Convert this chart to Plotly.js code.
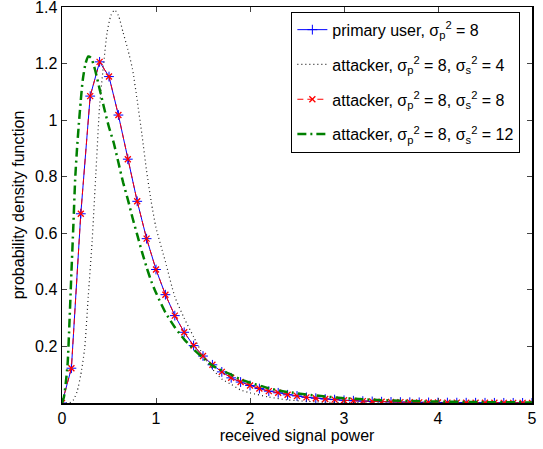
<!DOCTYPE html>
<html>
<head>
<meta charset="utf-8">
<script src="https://cdn.plot.ly/plotly-3.0.1.min.js"></script>
<style>
html,body{margin:0;padding:0;background:#fff;}
#chart{width:543px;height:449px;}
</style>
</head>
<body>
<div id="chart"></div>
<script>
// sample points (0 to 5, step 0.1) for the marked curves
const xMarked = [0,0.1,0.2,0.3,0.4,0.5,0.6,0.7,0.8,0.9,1.0,1.1,1.2,1.3,1.4,1.5,1.6,1.7,1.8,1.9,2.0,2.1,2.2,2.3,2.4,2.5,2.6,2.7,2.8,2.9,3.0,3.1,3.2,3.3,3.4,3.5,3.6,3.7,3.8,3.9,4.0,4.1,4.2,4.3,4.4,4.5,4.6,4.7,4.8,4.9,5.0];
const primaryUser = [0,0.123,0.669,1.085,1.206,1.154,1.018,0.862,0.713,0.581,0.472,0.383,0.309,0.250,0.203,0.166,0.135,0.110,0.089,0.074,0.062,0.051,0.042,0.036,0.029,0.025,0.020,0.017,0.014,0.012,0.0095,0.008,0.0066,0.0055,0.0046,0.0038,0.0032,0.0027,0.0023,0.0019,0.0016,0.0014,0.0012,0.0010,0.0009,0.0007,0.0006,0.0005,0.0005,0.0004,0.0003];
const attackerS8 = [0,0.123,0.669,1.085,1.206,1.154,1.018,0.862,0.713,0.581,0.472,0.383,0.309,0.250,0.203,0.166,0.135,0.110,0.089,0.074,0.062,0.051,0.042,0.036,0.029,0.025,0.020,0.017,0.014,0.012,0.0095,0.008,0.0066,0.0055,0.0046,0.0038,0.0032,0.0027,0.0023,0.0019,0.0016,0.0014,0.0012,0.0010,0.0009,0.0007,0.0006,0.0005,0.0005,0.0004,0.0003];

const xS4 = [0,0.08,0.12,0.16,0.2,0.24,0.28,0.32,0.36,0.4,0.44,0.48,0.52,0.56,0.6,0.65,0.7,0.75,0.8,0.85,0.9,0.95,1.0,1.1,1.2,1.3,1.4,1.5,1.6,1.7,1.8,1.9,2.0,2.2,2.4,2.6,2.8,3.0,3.5,4.0,4.5,5.0];
const attackerS4 = [0,0,0.01,0.04,0.10,0.19,0.38,0.57,0.81,1.05,1.19,1.31,1.37,1.39,1.37,1.31,1.25,1.18,1.07,0.95,0.82,0.71,0.62,0.50,0.376,0.30,0.234,0.17,0.12,0.085,0.066,0.046,0.036,0.021,0.011,0.006,0.003,0.0015,0.0003,0.0001,0,0];

const xS12 = [0,0.02,0.04,0.06,0.08,0.1,0.12,0.14,0.16,0.18,0.2,0.22,0.25,0.28,0.31,0.35,0.4,0.45,0.5,0.55,0.6,0.65,0.7,0.75,0.8,0.85,0.9,0.95,1.0,1.1,1.2,1.3,1.4,1.5,1.6,1.7,1.8,1.9,2.0,2.2,2.4,2.6,2.8,3.0,3.2,3.4,3.6,3.8,4.0,4.5,5.0];
const attackerS12 = [0,0.02,0.07,0.14,0.29,0.46,0.62,0.79,0.90,0.99,1.07,1.14,1.20,1.225,1.22,1.18,1.11,1.04,0.975,0.92,0.85,0.78,0.72,0.655,0.595,0.535,0.48,0.43,0.39,0.32,0.268,0.225,0.19,0.16,0.132,0.115,0.10,0.083,0.072,0.052,0.039,0.030,0.023,0.017,0.013,0.010,0.008,0.006,0.005,0.003,0.002];

const xTicks = [0,1,2,3,4,5];
const yTicks = [0.2,0.4,0.6,0.8,1,1.2,1.4];
const yTickText = ['0.2','0.4','0.6','0.8','1','1.2','1.4'];
const names = [
  'primary user, σ<sub>p</sub><sup>2</sup> = 8',
  'attacker, σ<sub>p</sub><sup>2</sup> = 8, σ<sub>s</sub><sup>2</sup> = 4',
  'attacker, σ<sub>p</sub><sup>2</sup> = 8, σ<sub>s</sub><sup>2</sup> = 8',
  'attacker, σ<sub>p</sub><sup>2</sup> = 8, σ<sub>s</sub><sup>2</sup> = 12'
];

const traces = [
  {x: xMarked, y: primaryUser, name: names[0], mode: 'lines+markers', legendgroup:'a',
   line: {color: '#0000ff', width: 1},
   marker: {symbol: 'cross-thin-open', size: 7, line: {color: '#0000ff', width: 1}}},
  {x: xS4, y: attackerS4, name: names[1], mode: 'lines', legendgroup:'b',
   line: {color: '#222222', width: 1.2, dash: '1px,3px', shape: 'spline', smoothing: 0.6}},
  {x: xMarked, y: attackerS8, name: names[2], mode: 'lines+markers', legendgroup:'c',
   line: {color: '#ff0000', width: 1, dash: '6px,4px'},
   marker: {symbol: 'x-thin-open', size: 6, line: {color: '#ff0000', width: 1.3}}},
  {x: xS12, y: attackerS12, name: names[3], mode: 'lines', legendgroup:'d',
   line: {color: '#008000', width: 2.5, dash: '9px,4px,2px,4px', shape: 'spline', smoothing: 0.6}}
];

const layout = {
  width: 543, height: 449,
  margin: {l: 62, r: 11, t: 7, b: 46},
  paper_bgcolor: '#ffffff', plot_bgcolor: '#ffffff',
  font: {family: 'Liberation Sans, Arial, sans-serif', size: 16, color: '#000'},
  showlegend: true,
  legend: {x: 0.488, y: 0.988, xanchor: 'left', yanchor: 'top',
           bordercolor: '#000', borderwidth: 1, bgcolor: '#fff',
           font: {size: 16}, tracegroupgap: 11},
  xaxis: {range: [0, 5], tickvals: xTicks, ticks: 'inside', ticklen: 5,
          showline: true, linecolor: '#000', linewidth: 1.5, mirror: 'allticks',
          showgrid: false, zeroline: false, tickfont: {size: 16}, ticklabeloverflow: 'allow',
          title: {text: 'received signal power', font: {size: 16}, standoff: 2}},
  yaxis: {range: [0, 1.4], tickvals: yTicks, ticktext: yTickText, ticks: 'inside', ticklen: 5,
          showline: true, linecolor: '#000', linewidth: 1.5, mirror: 'allticks',
          showgrid: false, zeroline: false, tickfont: {size: 16}, ticklabeloverflow: 'allow',
          title: {text: 'probability density function', font: {size: 16}, standoff: 6}}
};

Plotly.newPlot('chart', traces, layout, {displayModeBar: false, staticPlot: true});
</script>
</body>
</html>
